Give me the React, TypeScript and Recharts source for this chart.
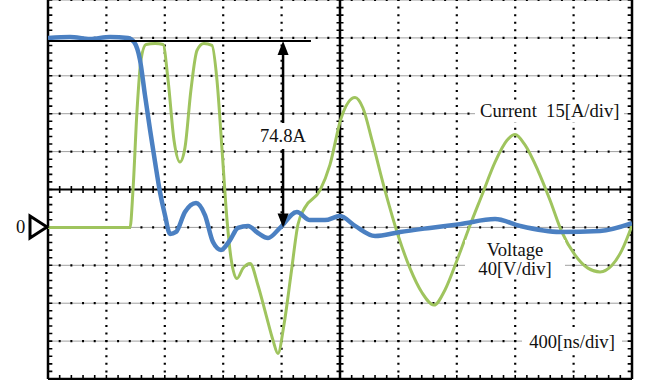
import React from 'react'
import { LineChart, Line, XAxis, YAxis, ReferenceLine, ReferenceDot } from 'recharts'

// time in ns (400 ns/div), current in A (15 A/div), voltage in V (40 V/div)
const currentTimes = [0, 151, 288, 425, 548, 589, 630, 664, 699, 733, 767, 801, 836, 877, 938, 1014, 1075, 1130, 1185, 1247, 1301, 1370, 1438, 1507, 1589, 1705, 1794, 1897, 2000, 2103, 2240, 2411, 2616, 2822, 3062, 3233, 3507, 3781, 4000]
const currentAmps = [75.0, 75.4, 74.6, 75.4, 75.0, 73.4, 66.3, 52.4, 38.6, 25.9, 14.0, 4.9, -2.6, -1.8, 6.1, 9.7, 4.9, -5.8, -8.9, -5.0, -0.2, 0.6, -2.2, -4.2, -0.2, 6.1, 2.9, 2.9, 4.5, 0.6, -3.4, -1.8, -0.2, 1.3, 3.3, 0.6, -1.8, -1.4, 1.7]

const voltageTimes = [0, 562, 582, 610, 637, 671, 733, 788, 822, 863, 904, 938, 979, 1021, 1068, 1123, 1157, 1192, 1226, 1253, 1294, 1336, 1384, 1438, 1493, 1541, 1575, 1616, 1664, 1712, 1760, 1863, 1931, 2007, 2103, 2157, 2219, 2308, 2397, 2479, 2562, 2644, 2719, 2808, 2890, 2972, 3062, 3144, 3199, 3267, 3356, 3438, 3520, 3609, 3698, 3781, 3863, 3931, 4000]
const voltageVolts = [0, 0, 39, 124, 177, 193, 194, 193, 156, 92, 69, 84, 145, 187, 194, 192, 156, 82, 8, -32, -54, -43, -38, -61, -92, -119, -133, -103, -50, 3, 21, 39, 66, 115, 137, 126, 92, 39, -8, -43, -69, -82, -66, -32, 2, 34, 69, 92, 98, 87, 60, 29, -5, -29, -43, -47, -40, -24, 2]

const divTimes = [400, 800, 1200, 1600, 2400, 2800, 3200, 3600]
const divAmps = [-45, -30, -15, 0, 30, 45, 60, 75, 90]
const centerTime = 2000
const centerAmps = 15

const stepTime = 1610
const stepTop = 73.8
const stepLineEnd = 1801

const currentData = currentTimes.map((t, i) => ({ t, a: currentAmps[i] }))
const voltageData = voltageTimes.map((t, i) => ({ t, v: voltageVolts[i] }))

const serif = '"Liberation Serif", "Times New Roman", serif'
const box: React.CSSProperties = {
  position: 'absolute', background: '#fff', fontFamily: serif, fontSize: 18.6,
  color: '#111', whiteSpace: 'pre', textAlign: 'center',
}

const headUp = (p: any) => (
  <polygon points={`${p.cx},${p.cy} ${p.cx - 5.5},${p.cy + 14} ${p.cx + 5.5},${p.cy + 14}`} fill="#000" />
)
const headDown = (p: any) => (
  <polygon points={`${p.cx},${p.cy} ${p.cx - 5.5},${p.cy - 14} ${p.cx + 5.5},${p.cy - 14}`} fill="#000" />
)

export default function App() {
  return (
    <div style={{ position: 'absolute', left: 0, top: 0, width: 656, height: 380, background: '#fff' }}>
      <LineChart width={656} height={380} margin={{ top: 0, right: 24, bottom: 1, left: 48 }}>
        <XAxis type="number" dataKey="t" domain={[0, 4000]} hide allowDataOverflow />
        <YAxis yAxisId="i" type="number" domain={[-60, 90]} hide allowDataOverflow />
        <YAxis yAxisId="v" type="number" domain={[-160, 240]} hide allowDataOverflow />

        {divAmps.map(a => (
          <ReferenceLine key={'hg' + a} yAxisId="i" y={a} stroke="#a0a0a0" strokeWidth={1} />
        ))}
        {divAmps.map(a => (
          <ReferenceLine key={'hd' + a} yAxisId="i" y={a} stroke="#000" strokeWidth={2.2} strokeDasharray="2 9.68" strokeDashoffset={1} />
        ))}
        {divTimes.map(t => (
          <ReferenceLine key={'vd' + t} yAxisId="i" x={t} stroke="#000" strokeWidth={2.2} strokeDasharray="2 5.58" strokeDashoffset={1} />
        ))}

        {/* center cross with minor ticks */}
        <ReferenceLine yAxisId="i" y={centerAmps} stroke="#000" strokeWidth={2} />
        <ReferenceLine yAxisId="i" y={centerAmps} stroke="#000" strokeWidth={7} strokeDasharray="1.6 10.08" strokeDashoffset={0.8} />
        <ReferenceLine yAxisId="i" x={centerTime} stroke="#000" strokeWidth={2.5} />
        <ReferenceLine yAxisId="i" x={centerTime} stroke="#000" strokeWidth={7} strokeDasharray="1.6 5.98" strokeDashoffset={0.8} />

        {/* frame with inward ticks */}
        <ReferenceLine yAxisId="i" x={0} stroke="#000" strokeWidth={2.5} />
        <ReferenceLine yAxisId="i" x={16} stroke="#000" strokeWidth={4} strokeDasharray="1.6 5.98" strokeDashoffset={0.8} />
        <ReferenceLine yAxisId="i" x={4000} stroke="#000" strokeWidth={2.5} />
        <ReferenceLine yAxisId="i" x={3984} stroke="#000" strokeWidth={4} strokeDasharray="1.6 5.98" strokeDashoffset={0.8} />
        <ReferenceLine yAxisId="i" y={-60} stroke="#000" strokeWidth={2.5} />
        <ReferenceLine yAxisId="i" y={-59.2} stroke="#000" strokeWidth={4} strokeDasharray="1.6 10.08" strokeDashoffset={0.8} />

        <Line yAxisId="v" data={voltageData} dataKey="v" type="monotone" stroke="#9fc45e" strokeWidth={3} dot={false} isAnimationActive={false} />
        <Line yAxisId="i" data={currentData} dataKey="a" type="monotone" stroke="#4b80c2" strokeWidth={4.5} dot={false} isAnimationActive={false} />

        {/* 74.8A step annotation */}
        <ReferenceLine yAxisId="i" segment={[{ x: 0, y: stepTop }, { x: stepLineEnd, y: stepTop }]} stroke="#000" strokeWidth={2} />
        <ReferenceLine yAxisId="i" segment={[{ x: stepTime, y: stepTop - 2 }, { x: stepTime, y: 1 }]} stroke="#000" strokeWidth={2.5} />
        <ReferenceDot yAxisId="i" x={stepTime} y={stepTop} shape={headUp} />
        <ReferenceDot yAxisId="i" x={stepTime} y={0} shape={headDown} />
      </LineChart>

      <div style={{ ...box, left: 257, top: 123, width: 52, lineHeight: '26px' }}>74.8A</div>
      <div style={{ ...box, left: 475, top: 100, padding: '0 5px', lineHeight: '22px' }}>{'Current  15[A/div]'}</div>
      <div style={{ ...box, left: 465, top: 240, width: 100, lineHeight: '19px' }}>{'Voltage\n40[V/div]'}</div>
      <div style={{ ...box, left: 522, top: 331, width: 100, lineHeight: '22px' }}>400[ns/div]</div>
      <div style={{ ...box, left: 16, top: 216, lineHeight: '22px', background: 'transparent' }}>0</div>
      <svg style={{ position: 'absolute', left: 26, top: 212 }} width={26} height={30}>
        <polygon points="4,4 21,15 4,26" fill="#fff" stroke="#000" strokeWidth={3} strokeLinejoin="miter" />
      </svg>
    </div>
  )
}
